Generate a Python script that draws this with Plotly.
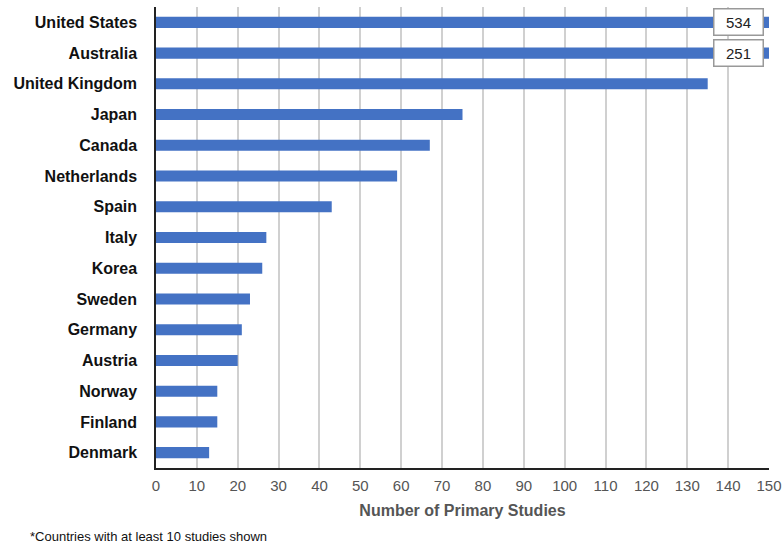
import plotly.graph_objects as go

countries = ["United States", "Australia", "United Kingdom", "Japan", "Canada",
             "Netherlands", "Spain", "Italy", "Korea", "Sweden", "Germany",
             "Austria", "Norway", "Finland", "Denmark"]
studies = [534, 251, 135, 75, 67, 59, 43, 27, 26, 23, 21, 20, 15, 15, 13]
x_max = 150

fig = go.Figure()
fig.add_trace(go.Bar(
    y=countries, x=studies, orientation="h",
    marker=dict(color="#4472C4", line=dict(width=0)),
    width=0.36,
))

for c, v in zip(countries, studies):
    if v > x_max:
        fig.add_annotation(
            x=x_max, y=c, xref="x", yref="y", text=str(v),
            showarrow=False, xanchor="right", xshift=-5,
            font=dict(family="Liberation Sans, Arial", size=15, color="#222"),
            bgcolor="white", bordercolor="#999", borderwidth=1.5, borderpad=4,
            width=40,
        )

fig.add_annotation(
    x=0, y=0, xref="paper", yref="paper", xanchor="left", yanchor="top",
    text="*Countries with at least 10 studies shown", showarrow=False,
    xshift=-128, yshift=-59,
    font=dict(family="Liberation Sans, Arial", size=13, color="#111"),
)

fig.update_layout(
    width=783, height=544, autosize=False,
    margin=dict(l=156, r=14, t=7, b=76),
    paper_bgcolor="white", plot_bgcolor="white",
    showlegend=False,
    font=dict(family="Liberation Sans, Arial"),
    xaxis=dict(
        range=[0, x_max], dtick=10, tick0=0, automargin=False,
        showgrid=True, gridcolor="#d0d0d0", gridwidth=1.5,
        showline=True, linecolor="#222", linewidth=1.5,
        zeroline=False, ticks="",
        tickfont=dict(size=15, color="#555"),
        ticklabelstandoff=3,
        title=dict(text="<b>Number of Primary Studies</b>",
                   font=dict(size=16, color="#555"), standoff=12),
    ),
    yaxis=dict(
        categoryorder="array", categoryarray=countries[::-1],
        autorange=False, range=[-0.5, len(countries) - 0.5], automargin=False,
        showline=True, linecolor="#222", linewidth=1.5,
        ticks="", showgrid=False,
        tickfont=dict(size=16, color="#111", weight="bold"),
        ticklabelstandoff=14,
    ),
)

fig.write_html(
    "out.html",
    config={"displayModeBar": False, "responsive": False},
    post_script="document.body.style.margin='0';document.body.style.overflow='hidden';",
)
